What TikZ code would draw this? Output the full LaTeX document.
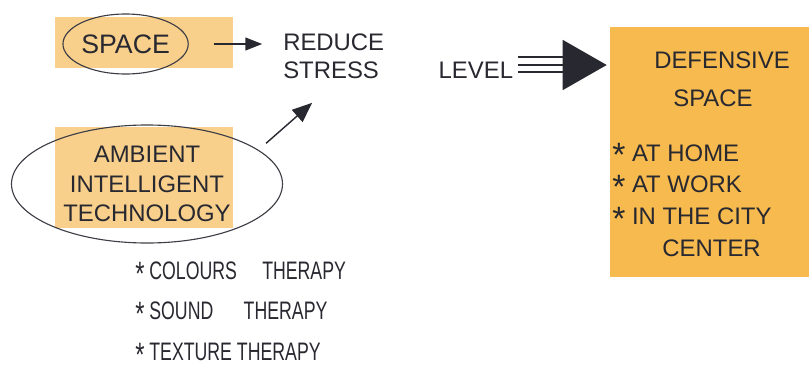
\documentclass[tikz,border=0pt]{standalone}
\usepackage{fontspec}
\setmainfont{Liberation Sans}
\newfontfamily\narrowhand[FakeStretch=0.7]{Liberation Sans}
\usepackage{xcolor}
\usetikzlibrary{positioning,arrows.meta,calc,shapes.geometric}
\definecolor{cpale}{RGB}{248,208,140}
\definecolor{cnote}{RGB}{246,186,78}
\definecolor{cink}{RGB}{40,40,48}
\newcommand{\handsize}{\fontsize{17}{20}\selectfont}
\newcommand{\itemstar}{\raisebox{-0.45ex}{\fontsize{24}{20}\selectfont *}}

\begin{document}
\begin{tikzpicture}[
  hand/.style={text=cink, font=\handsize, inner sep=0pt},
  patch/.style={fill=cpale, draw=none, minimum width=4.45cm},
  notebox/.style={fill=cnote, draw=none, minimum width=4.975cm, minimum height=6.25cm},
  loopline/.style={ellipse, draw=cink!90, line width=0.8pt},
  pen/.style={draw=cink, line width=1pt}]
\useasboundingbox (0,0) rectangle (20.225,-9.35);
% highlight patches
\node[patch, minimum height=1.275cm] (spacebg)   at (3.6,-1.06) {};
\node[patch, minimum height=2.525cm] (ambientbg) at (3.6,-4.44) {};
\node[notebox] (def) at (17.7375,-3.8) {};
% circled words
\node[loopline, hand, font=\fontsize{19}{20}\selectfont, minimum width=3.125cm, minimum height=1.5cm] (space) at (3.14,-1.1) {SPACE};
\node[loopline, hand, align=center, font=\fontsize{17}{21}\selectfont, minimum width=6.775cm, minimum height=2.95cm] (ambient) at (3.675,-4.6) {AMBIENT\\INTELLIGENT\\TECHNOLOGY};
\node[hand, align=left, anchor=west] (reduce) at (7.075,-1.4) {REDUCE\\STRESS\hspace{2.5em}LEVEL};
% note on the right
\node[hand] (deftitle) at (18.05,-1.5) {DEFENSIVE};
\node[hand] (defsub) at (17.825,-2.45) {SPACE};
\node[hand, align=left, anchor=west, font=\fontsize{17}{22.5}\selectfont] (deflist) at (15.3,-5.0) {\itemstar\ AT HOME\\\itemstar\ AT WORK\\\itemstar\ IN THE CITY\\\hspace*{2.1em}CENTER};
% therapies
\node[hand, align=left, anchor=west, font=\narrowhand\fontsize{18}{29}\selectfont] (therapy) at (3.375,-7.85) {\itemstar\ COLOURS\hspace{1em}THERAPY\\\itemstar\ SOUND\hspace{1.2em}THERAPY\\\itemstar\ TEXTURE THERAPY};
% arrows
\draw[pen, -{Triangle[length=0.42cm,width=0.32cm]}, shorten <=0.62cm, shorten >=0.52cm] (space.east) -- (space.east -| reduce.west);
\draw[pen, -{Triangle[length=0.5cm,width=0.4cm]}, shorten <=0.25cm] (ambient.17) -- ([shift={(0.73,-0.6)}]reduce.south west);
\foreach \dy in {-0.025,-0.4}
  \draw[pen, shorten <=0.125cm, shorten >=1.1cm] ([yshift=\dy cm]reduce.east) -- ($(def.west |- reduce.east)+(0,\dy)$);
\draw[pen, -{Triangle[length=1.1cm,width=1.25cm]}, shorten <=0.125cm, shorten >=0.075cm] ([yshift=-0.225cm]reduce.east) -- ($(def.west |- reduce.east)+(0,-0.225)$);
\end{tikzpicture}
\end{document}
